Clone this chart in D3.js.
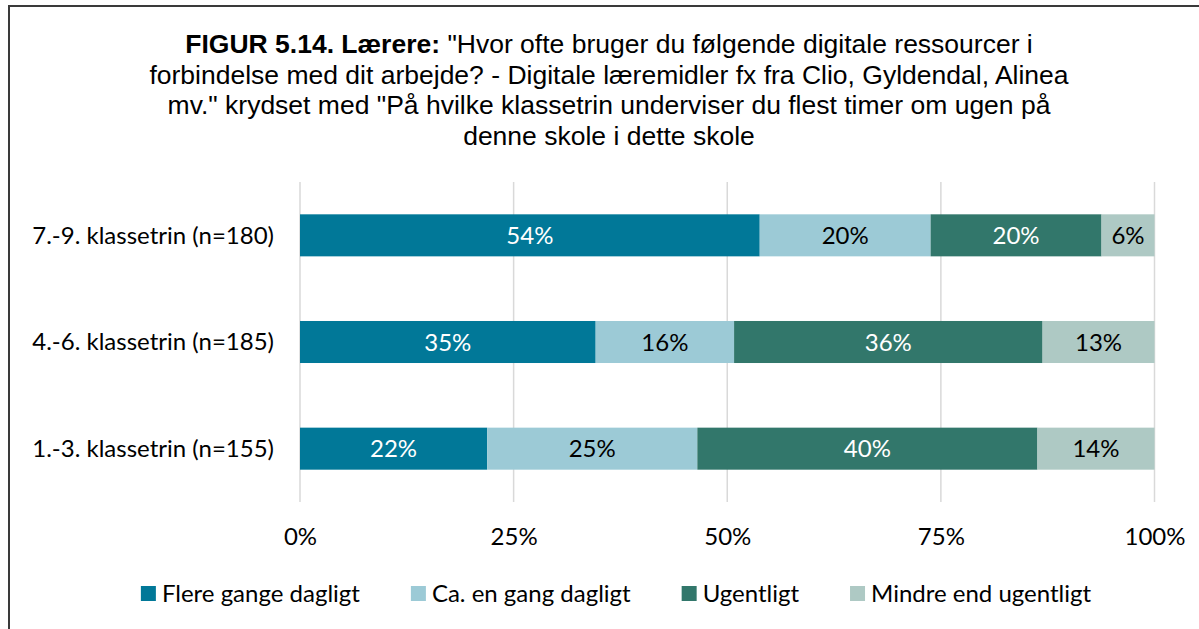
<!DOCTYPE html>
<html lang="da">
<head>
<meta charset="utf-8">
<script src="https://cdn.jsdelivr.net/npm/d3@7"></script>
<style>
  html, body { margin: 0; padding: 0; background: #fff; }
  svg { display: block; }
</style>
</head>
<body>
<svg id="chart" width="1199" height="629"></svg>
<script>
// Klassetrin (top to bottom)
const categories = [
  "7.-9. klassetrin (n=180)",
  "4.-6. klassetrin (n=185)",
  "1.-3. klassetrin (n=155)"
];

// Response options, in stacking order
const seriesNames = [
  "Flere gange dagligt",
  "Ca. en gang dagligt",
  "Ugentligt",
  "Mindre end ugentligt"
];

// Share of teachers (%) per klassetrin, same order as categories
const flereGangeDagligt = [53.8, 34.6, 21.9];
const caEnGangDagligt   = [20.0, 16.2, 24.6];
const ugentligt         = [20.0, 36.1, 39.8];
const mindreEndUgentligt = [6.2, 13.1, 13.7];

const tickValues = [0, 25, 50, 75, 100];
const tickLabels = ["0%", "25%", "50%", "75%", "100%"];

const seriesValues = [flereGangeDagligt, caEnGangDagligt, ugentligt, mindreEndUgentligt];
const colors = ["#017898", "#9ccad6", "#32776b", "#aec9c4"];
const labelColors = ["#ffffff", "#000000", "#ffffff", "#000000"];

const labelFont = "Lato, 'Open Sans', sans-serif";
const titleFont = "'Liberation Sans', Arial, sans-serif";

const svg = d3.select("#chart");

// Outer frame (runs past the right and bottom edges)
svg.append("rect")
  .attr("x", 9).attr("y", 6)
  .attr("width", 1260).attr("height", 700)
  .attr("fill", "none")
  .attr("stroke", "#3a3a3a")
  .attr("stroke-width", 2);

// Title
const titleLines = [
  [["FIGUR 5.14. Lærere: ", true], ["\"Hvor ofte bruger du følgende digitale ressourcer i", false]],
  [["forbindelse med dit arbejde? - Digitale læremidler fx fra Clio, Gyldendal, Alinea", false]],
  [["mv.\" krydset med \"På hvilke klassetrin underviser du flest timer om ugen på", false]],
  [["denne skole i dette skole", false]]
];
const title = svg.append("text")
  .attr("font-family", titleFont)
  .attr("font-size", 26.5)
  .attr("fill", "#000")
  .attr("text-anchor", "middle");
titleLines.forEach((parts, i) => {
  parts.forEach((p, j) => {
    const t = title.append("tspan").text(p[0]).attr("font-weight", p[1] ? "bold" : "normal");
    if (j === 0) t.attr("x", 609).attr("y", 53 + i * 30.5);
  });
});

// Scales
const x = d3.scaleLinear().domain([0, 100]).range([300, 1154.5]);
const y = d3.scaleBand().domain(categories).range([182, 502])
  .paddingInner(0.606).paddingOuter(0.303);

// Vertical gridlines
svg.append("g")
  .selectAll("line")
  .data(tickValues)
  .join("line")
  .attr("x1", d => x(d)).attr("x2", d => x(d))
  .attr("y1", 182).attr("y2", 502)
  .attr("stroke", "#d9d9d9")
  .attr("stroke-width", 1.5);

// X axis tick labels
const xAxis = d3.axisBottom(x)
  .tickValues(tickValues)
  .tickFormat((d, i) => tickLabels[i])
  .tickSize(0)
  .tickPadding(0);
const gx = svg.append("g").attr("transform", "translate(0,502)").call(xAxis);
gx.select(".domain").remove();
gx.selectAll("text")
  .attr("font-family", labelFont)
  .attr("font-size", 24)
  .attr("fill", "#000")
  .attr("dy", null)
  .attr("y", 43);

// Y axis category labels
const yAxis = d3.axisLeft(y).tickSize(0).tickPadding(0);
const gy = svg.append("g").attr("transform", "translate(274,0)").call(yAxis);
gy.select(".domain").remove();
gy.selectAll("text")
  .attr("font-family", labelFont)
  .attr("font-size", 24)
  .attr("fill", "#000")
  .attr("dy", "0.34em");

// Stacked data
const rows = categories.map((c, i) => {
  const r = { category: c };
  seriesNames.forEach((s, k) => { r[s] = seriesValues[k][i]; });
  return r;
});
const stacked = d3.stack().keys(seriesNames)(rows);

const layers = svg.append("g")
  .selectAll("g")
  .data(stacked)
  .join("g")
  .attr("fill", (d, k) => colors[k]);

layers.selectAll("rect")
  .data(d => d)
  .join("rect")
  .attr("x", d => x(d[0]))
  .attr("width", d => x(d[1]) - x(d[0]))
  .attr("y", d => y(d.data.category))
  .attr("height", y.bandwidth());

// Value labels
layers.each(function (layer, k) {
  d3.select(this).selectAll("text")
    .data(layer)
    .join("text")
    .attr("x", d => (x(d[0]) + x(d[1])) / 2)
    .attr("y", d => y(d.data.category) + y.bandwidth() / 2)
    .attr("dy", "0.36em")
    .attr("text-anchor", "middle")
    .attr("font-family", labelFont)
    .attr("font-size", 24)
    .attr("fill", labelColors[k])
    .text(d => d3.format(".0f")(d[1] - d[0]) + "%");
});

// Legend
const legend = svg.append("g");
const items = legend.selectAll("g")
  .data(seriesNames)
  .join("g");
items.append("rect")
  .attr("width", 15).attr("height", 15)
  .attr("y", 586)
  .attr("fill", (d, k) => colors[k]);
items.append("text")
  .attr("x", 21)
  .attr("y", 602)
  .attr("font-family", labelFont)
  .attr("font-size", 24)
  .attr("fill", "#000")
  .text(d => d);

const gap = 51;
const widths = [];
items.each(function () {
  widths.push(21 + d3.select(this).select("text").node().getComputedTextLength());
});
const total = d3.sum(widths) + gap * (widths.length - 1);
let cx = 616 - total / 2;
items.each(function (d, k) {
  d3.select(this).attr("transform", `translate(${cx},0)`);
  cx += widths[k] + gap;
});
</script>
</body>
</html>
